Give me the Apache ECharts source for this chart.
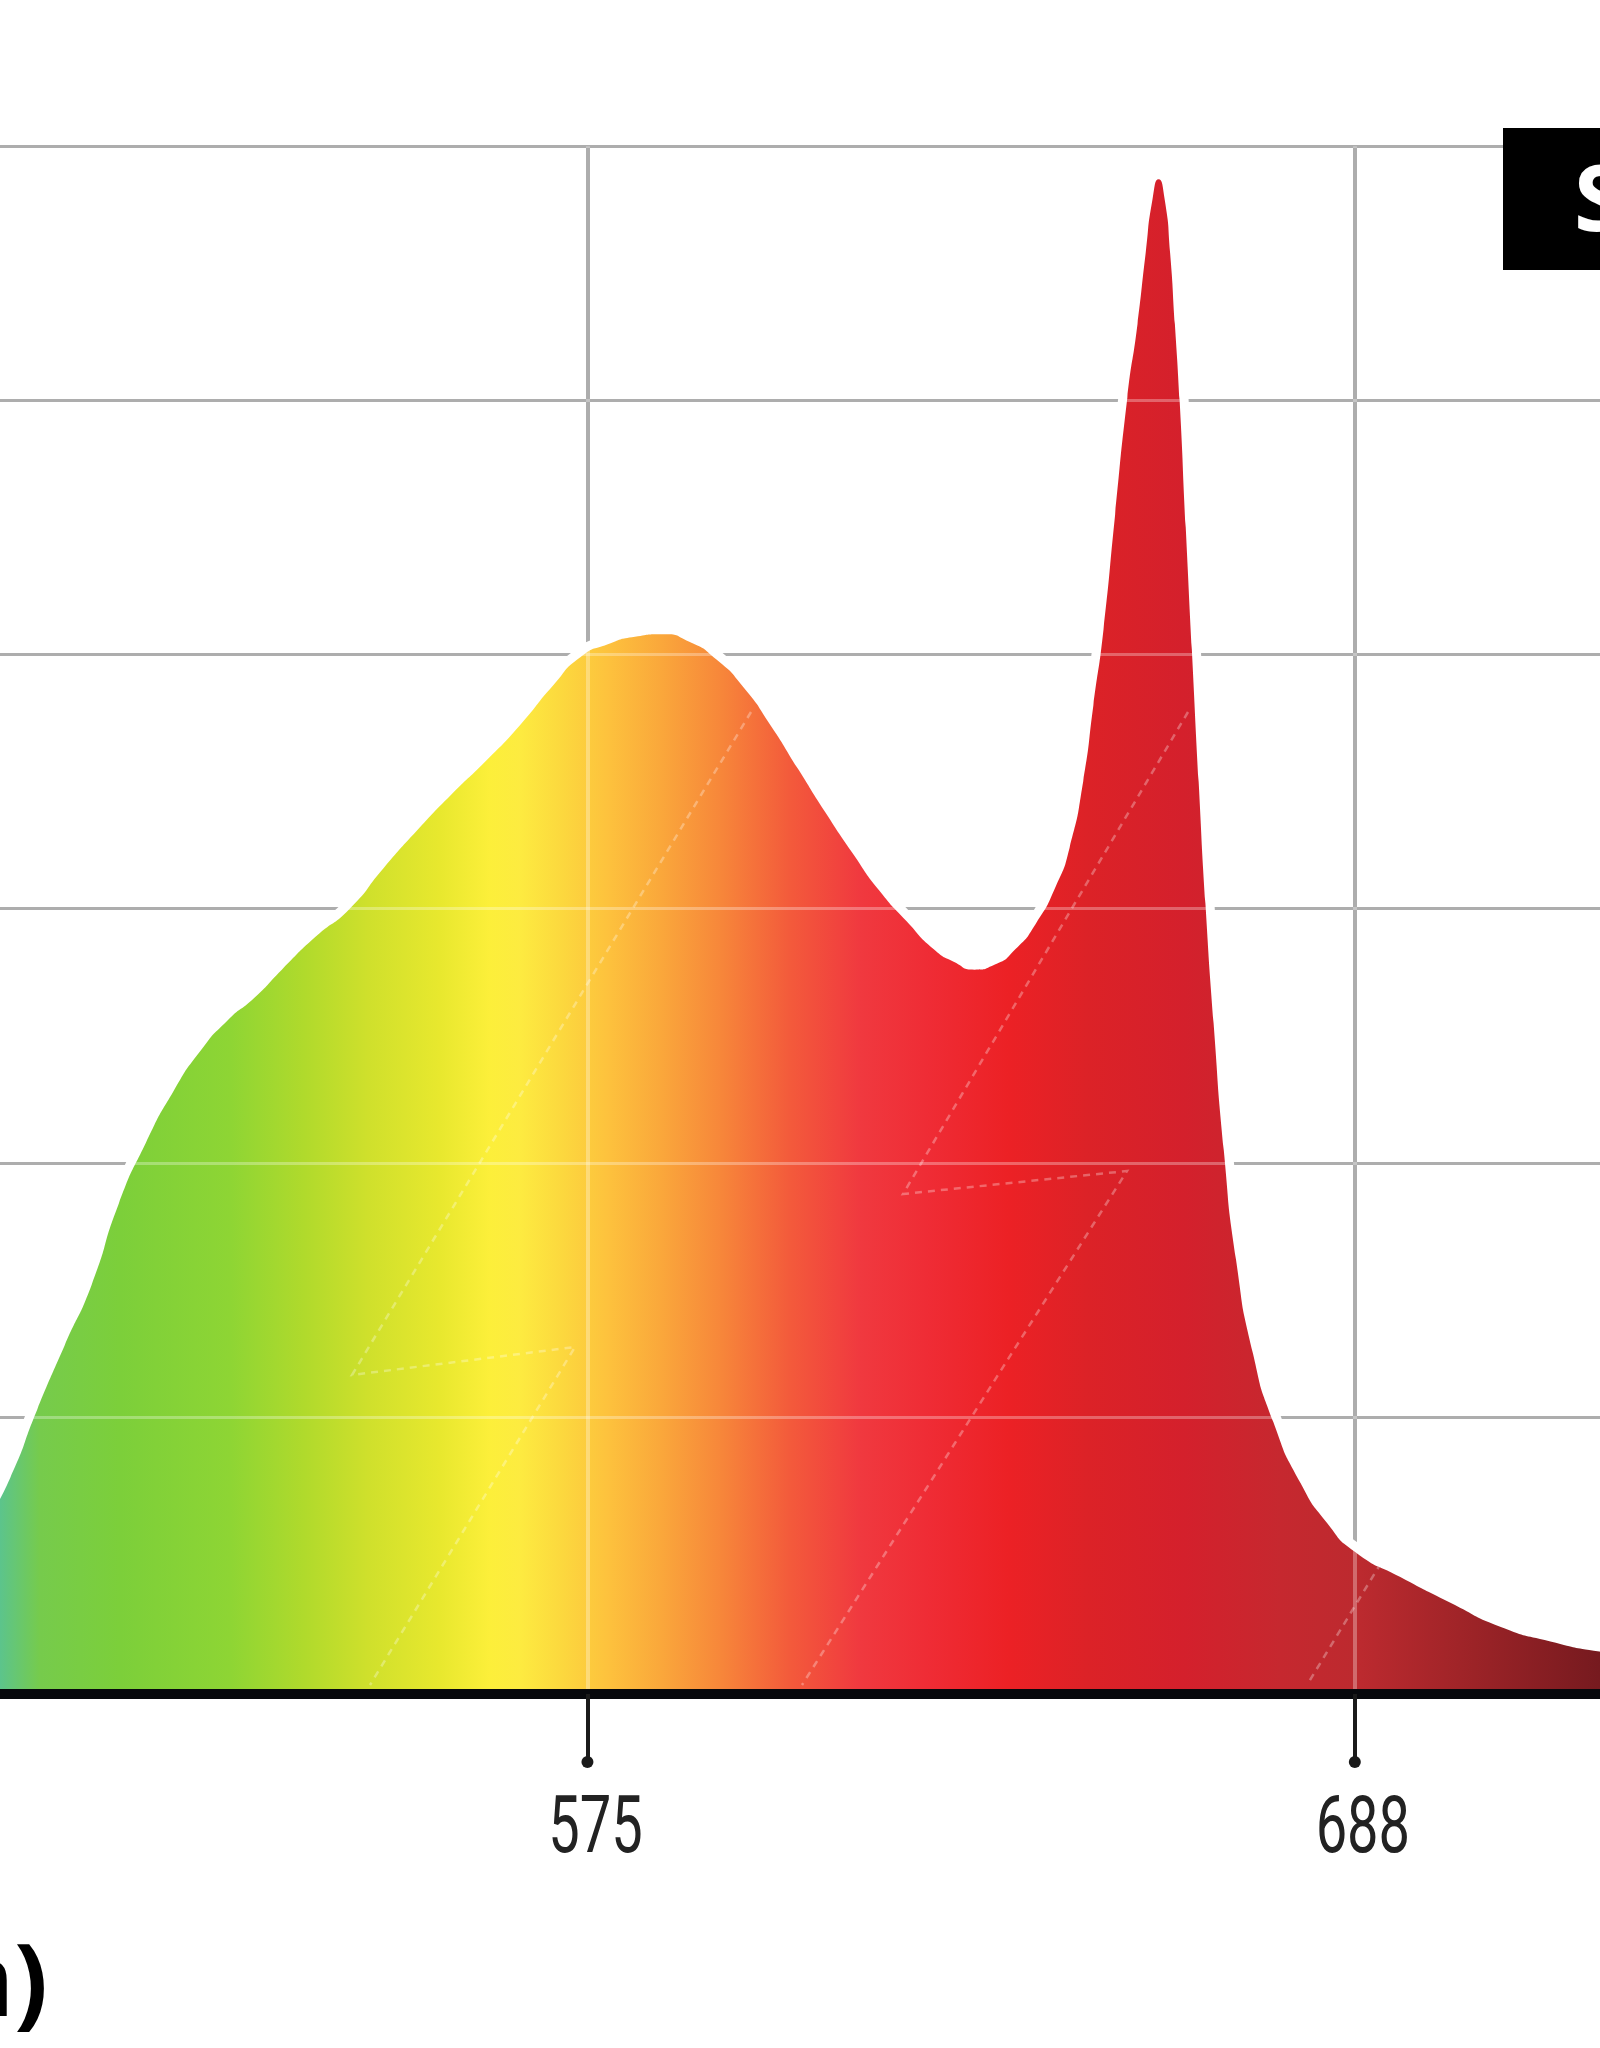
<!DOCTYPE html>
<html>
<head>
<meta charset="utf-8">
<title>Spectrum</title>
<script src="https://cdn.jsdelivr.net/npm/echarts@6/dist/echarts.min.js"></script>
<style>
  html, body { margin: 0; padding: 0; background: #fff; }
  #chart { width: 1600px; height: 2048px; }
</style>
</head>
<body>
<div id="chart"></div>
<script>
// wavelength (nm) and relative intensity
var wavelength = [482, 486, 490, 494, 498, 502, 506, 510, 514, 518, 522, 526, 530, 535, 540, 545,
    550, 555, 560, 565, 570, 574, 578, 582, 586, 590, 594, 598, 602, 606, 610, 614, 618, 622,
    626, 629, 632, 635, 638, 641, 644, 646, 648, 649.5, 651, 652.7, 654.5, 656, 657.2, 658.2,
    659.1, 660, 660.8, 661.5, 662.2, 663.1, 664, 665, 666, 667.2, 668.7, 670.5, 673, 676, 680,
    684, 688, 694.7, 702, 709.4, 716.8, 724, 730];
var intensity = [0.35, 0.56, 0.76, 1.03, 1.28, 1.52, 1.84, 2.08, 2.28, 2.44, 2.56, 2.65, 2.76, 2.89, 3.00, 3.16,
    3.31, 3.45, 3.58, 3.72, 3.88, 3.99, 4.04, 4.07, 4.08, 4.05, 3.98, 3.87, 3.72, 3.55, 3.38, 3.22, 3.07, 2.95,
    2.84, 2.79, 2.76, 2.78, 2.84, 2.94, 3.09, 3.24, 3.50, 3.80, 4.10, 4.55, 5.01, 5.30, 5.58, 5.79,
    5.87, 5.79, 5.58, 5.30, 5.00, 4.50, 4.02, 3.50, 3.02, 2.55, 2.05, 1.62, 1.25, 0.98, 0.74,
    0.58, 0.47, 0.37, 0.27, 0.175, 0.117, 0.077, 0.06];
var tickValues = [575, 688];
var tickLabels = ['575', '688'];
var gridValues = [1, 2, 3, 4, 5, 6];

var xMin = 488.5, xMax = 724.1;
var yMin = -0.09, yMax = 6.575;

var chart = echarts.init(document.getElementById('chart'));

var points = wavelength.map(function (w, i) { return [w, intensity[i]]; });

function gridLines(color, hWidth, vWidth, z) {
    var lines = [];
    gridValues.forEach(function (v) {
        lines.push({ yAxis: v, lineStyle: { color: color, width: hWidth, type: 'solid' } });
    });
    tickValues.forEach(function (t) {
        lines.push([
            { coord: [t, gridValues[gridValues.length - 1]], lineStyle: { color: color, width: vWidth, type: 'solid' } },
            { coord: [t, yMin] }
        ]);
    });
    return {
        silent: true,
        z: z,
        symbol: ['none', 'none'],
        label: { show: false },
        emphasis: { disabled: true },
        animation: false,
        data: lines
    };
}

var spectrumColors = new echarts.graphic.LinearGradient(0, 0, 1600, 0, [
    { offset: 0, color: '#5cc48c' },
    { offset: 0.025, color: '#76cb4c' },
    { offset: 0.075, color: '#7ccf3a' },
    { offset: 0.144, color: '#8ed534' },
    { offset: 0.19, color: '#b0da2c' },
    { offset: 0.23, color: '#cfe02c' },
    { offset: 0.275, color: '#e8e82e' },
    { offset: 0.306, color: '#fcef3a' },
    { offset: 0.325, color: '#fdeb40' },
    { offset: 0.35, color: '#fcd93e' },
    { offset: 0.381, color: '#fdc13d' },
    { offset: 0.4125, color: '#faa83b' },
    { offset: 0.45, color: '#f7873a' },
    { offset: 0.494, color: '#f35a3b' },
    { offset: 0.5375, color: '#f0393f' },
    { offset: 0.58, color: '#ef2c35' },
    { offset: 0.63, color: '#ec2125' },
    { offset: 0.68, color: '#dc2227' },
    { offset: 0.74, color: '#d4202c' },
    { offset: 0.80, color: '#c6282f' },
    { offset: 0.85, color: '#bc2a2f' },
    { offset: 0.9125, color: '#a02428' },
    { offset: 1, color: '#761a1f' }
], true);

var option = {
    backgroundColor: '#fff',
    animation: false,
    grid: { left: 0, right: 0, top: 0, bottom: 354, containLabel: false },
    xAxis: {
        type: 'value',
        min: xMin,
        max: xMax,
        z: 10,
        axisLine: { show: true, onZero: false, lineStyle: { color: '#07080c', width: 10 } },
        axisTick: {
            show: true,
            customValues: tickValues,
            length: 66,
            lineStyle: { color: '#1a1a1a', width: 4 }
        },
        axisLabel: { show: false },
        splitLine: { show: false }
    },
    yAxis: {
        type: 'value',
        min: yMin,
        max: yMax,
        show: false,
        splitLine: { show: false }
    },
    series: [
        {
            name: 'grid',
            type: 'line',
            z: 1,
            data: points,
            symbol: 'none',
            lineStyle: { opacity: 0 },
            markLine: gridLines('#8a8a8a', 3, 4, 1)
        },
        {
            name: 'halo',
            type: 'line',
            z: 2,
            data: points,
            smooth: 0.65,
            symbol: 'none',
            lineStyle: { color: '#fff', width: 18, join: 'round' }
        },
        {
            name: 'spectrum',
            type: 'line',
            z: 3,
            data: points,
            smooth: 0.65,
            symbol: 'none',
            lineStyle: { width: 0 },
            areaStyle: { origin: 'start', color: spectrumColors, opacity: 1 }
        },
        {
            name: 'overlay',
            type: 'line',
            z: 4,
            data: points,
            symbol: 'none',
            lineStyle: { opacity: 0 },
            markLine: gridLines('rgba(255,255,255,0.3)', 3, 4, 6)
        }
    ]
};

chart.setOption(option);

// decorations: tick labels, dots under the ticks, faint bolts, corner box and cropped axis title
var extra = [];
tickValues.forEach(function (t, i) {
    var p = chart.convertToPixel({ xAxisIndex: 0, yAxisIndex: 0 }, [t, yMin]);
    extra.push({
        type: 'circle',
        id: 'dot' + i,
        shape: { cx: p[0], cy: p[1] + 68, r: 6 },
        style: { fill: '#1a1a1a' },
        z: 20
    });
    extra.push({
        type: 'text',
        id: 'tick' + i,
        x: p[0] + 8,
        y: p[1] + 138,
        scaleX: 0.7,
        style: {
            text: tickLabels[i],
            x: 0,
            y: 0,
            textAlign: 'center',
            textVerticalAlign: 'middle',
            fill: '#222',
            font: '80px Roboto, "Noto Sans", sans-serif'
        },
        z: 20
    });
});

var bolts = [
    [[751, 712], [352, 1375], [575, 1347], [370, 1685]],
    [[1188, 712], [903, 1194], [1127, 1171], [802, 1685]],
    [[1381, 1563], [1307, 1685]]
];
bolts.forEach(function (pts, i) {
    extra.push({
        type: 'polyline',
        id: 'bolt' + i,
        shape: { points: pts },
        style: { stroke: 'rgba(255,255,255,0.3)', lineWidth: 2.5, lineDash: [7, 6], fill: null },
        z: 15,
        silent: true
    });
});

extra.push({
    type: 'rect',
    id: 'box',
    shape: { x: 1503, y: 128, width: 120, height: 142 },
    style: { fill: '#000' },
    z: 20
});
extra.push({
    type: 'text',
    id: 'boxText',
    style: {
        text: 'S',
        x: 1574,
        y: 205,
        textVerticalAlign: 'middle',
        fill: '#fff',
        font: 'bold 92px "Open Sans", "Noto Sans", sans-serif'
    },
    z: 21
});
extra.push({
    type: 'text',
    id: 'xName',
    style: {
        text: 'Wavelength (nm)',
        x: 48,
        y: 1988,
        textAlign: 'right',
        textVerticalAlign: 'middle',
        fill: '#000',
        font: 'bold 100px "Open Sans", "Noto Sans", sans-serif'
    },
    z: 20
});

chart.setOption({ graphic: extra });
</script>
</body>
</html>
